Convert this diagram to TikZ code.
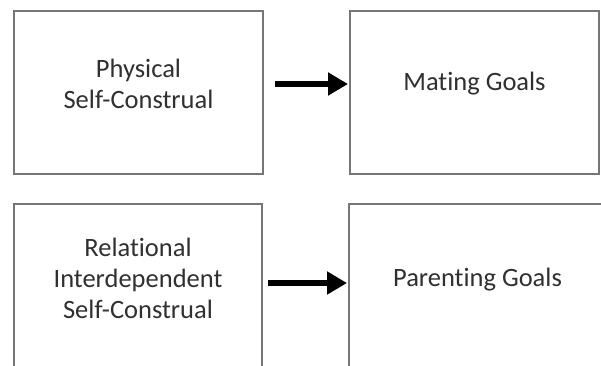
\documentclass[tikz,border=0pt]{standalone}
\usepackage{fontspec}
\setmainfont{Carlito}[Ligatures=NoCommon]
\usetikzlibrary{arrows.meta}
\definecolor{boxgrey}{HTML}{767676}
\definecolor{inkgrey}{HTML}{303030}
\begin{document}
\begin{tikzpicture}[x=1pt,y=-1pt,
  box/.style={draw=boxgrey, line width=2pt, fill=white, inner sep=0pt,
              minimum width=249pt, minimum height=163pt},
  lbl/.style={text=inkgrey, align=center, inner sep=0pt,
              font=\fontsize{26.5}{31}\selectfont},
  arr/.style={line width=6pt, black,
              -{Triangle[length=20pt,width=22pt]}}]
\useasboundingbox (0,0) rectangle (601,365);
\fill[white] (0,0) rectangle (601,365);
\begin{scope}
\clip (0,0) rectangle (601,365);
% boxes
\node[box] (phys) at (138.5,92.5) {};
\node[box] (mate) at (474.5,92.5) {};
\node[box, minimum width=248pt] (rel) at (138,285.5) {};
\node[box, minimum width=257pt] (par) at (477.5,285.5) {};
% labels
\node[lbl] (tphys) at (138.5,84) {Physical\\Self-Construal};
\node[lbl] (tmate) at (474.5,84) {Mating Goals};
\node[lbl] (trel) at (138,278) {Relational\\Interdependent\\Self-Construal};
\node[lbl] (tpar) at (477.5,280) {Parenting Goals};
% connectors
\draw[arr, shorten <=11pt, shorten >=1pt]
  ([yshift=8.5pt]phys.east) -- ([yshift=8.5pt]mate.west);
\draw[arr, shorten <=5pt, shorten >=1pt]
  ([yshift=2.5pt]rel.east) -- ([yshift=2.5pt]par.west);
\end{scope}
\end{tikzpicture}
\end{document}
